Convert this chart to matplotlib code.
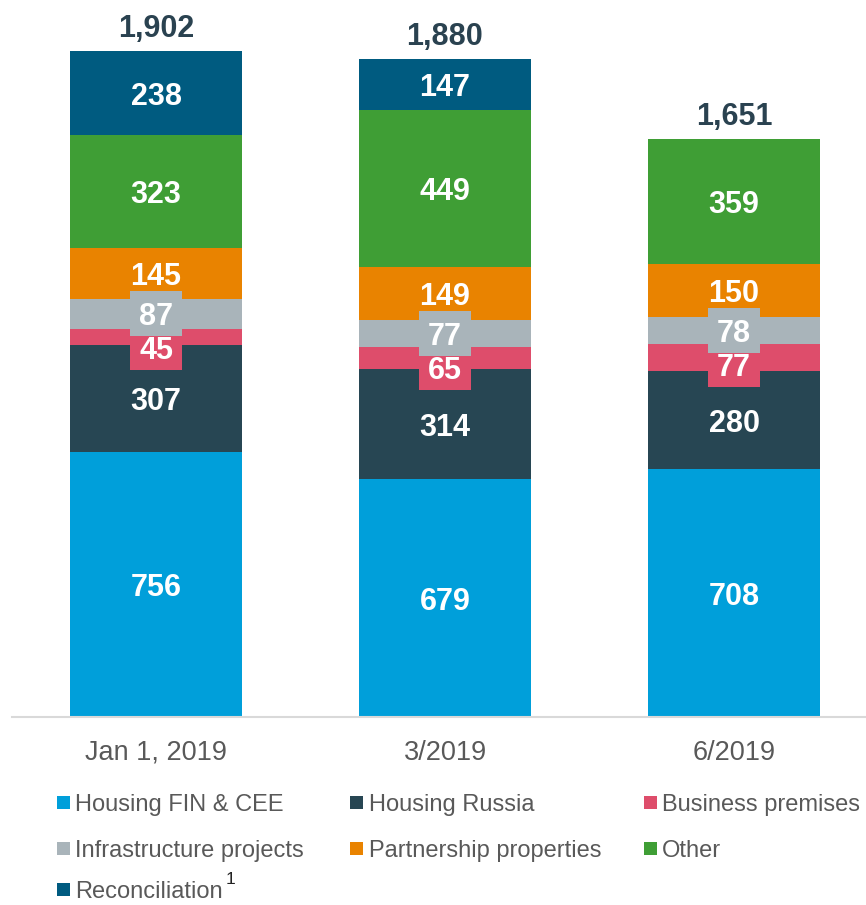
import matplotlib
matplotlib.use("Agg")
import matplotlib.pyplot as plt
from matplotlib.patches import Rectangle

plt.rcParams['font.family'] = ['Liberation Sans', 'DejaVu Sans']

categories = ["Jan 1, 2019", "3/2019", "6/2019"]
series_names = ["Housing FIN & CEE", "Housing Russia", "Business premises",
                "Infrastructure projects", "Partnership properties", "Other",
                "Reconciliation"]
footnote_mark = {"Reconciliation": "1"}
housing_fin_cee = [756, 679, 708]
housing_russia = [307, 314, 280]
business_premises = [45, 65, 77]
infrastructure = [87, 77, 78]
partnership = [145, 149, 150]
other = [323, 449, 359]
reconciliation = [238, 147, 0]
totals = [1902, 1880, 1651]

series_values = [housing_fin_cee, housing_russia, business_premises,
                 infrastructure, partnership, other, reconciliation]
colors = ['#009FDA', '#274653', '#DE4D6B', '#A9B4BA', '#E98300', '#3F9E35', '#005B80']
boxed = [False, False, True, True, False, False, False]

W, H = 866, 905
fig = plt.figure(figsize=(W / 100, H / 100), dpi=100)
px_per_unit = 666 / 1902.0
ax = fig.add_axes([11.5 / W, (H - 717) / H, (W - 11.5) / W, 717 / H])
x = list(range(len(categories)))
bar_w = 0.592
ax.set_xlim(-0.5, (W - 156) / 289.0)
ax.set_ylim(0, 717 / px_per_unit)

bottoms = [0.0] * len(categories)
label_info = []
for si, vals in enumerate(series_values):
    ax.bar(x, vals, width=bar_w, bottom=bottoms, color=colors[si], zorder=2,
           linewidth=0)
    for i, v in enumerate(vals):
        if v > 0:
            label_info.append((si, i, bottoms[i] + v / 2.0, v))
    bottoms = [b + v for b, v in zip(bottoms, vals)]

# resolve overlap between the two small boxed labels (business below infra)
min_sep = 34 / px_per_unit
pos = {(si, i): y for si, i, y, v in label_info}
for i in x:
    if (2, i) in pos and (3, i) in pos:
        gap = pos[(3, i)] - pos[(2, i)]
        if gap < min_sep:
            pos[(2, i)] = pos[(3, i)] - min_sep

box_w = 52 / 289.0
box_h = 45 / px_per_unit
for si, i, y, v in label_info:
    yc = pos[(si, i)]
    z = 5 + si * 2
    if boxed[si]:
        ax.add_patch(Rectangle((i - box_w / 2, yc - box_h / 2), box_w, box_h,
                               facecolor=colors[si], edgecolor='none', zorder=z))
    ax.text(i, yc, f"{v:,}", ha='center', va='center_baseline', color='white',
            fontsize=22, fontweight='bold', zorder=z + 1)

for i, t in enumerate(totals):
    ax.annotate(f"{t:,}", xy=(i, t), xytext=(0, 10), textcoords='offset points',
                ha='center', va='baseline', fontsize=22, fontweight='bold',
                color='#2A4250', annotation_clip=False)

ax.set_xticks(x)
ax.set_xticklabels(categories, fontsize=19.5, color='#595959')
ax.tick_params(axis='x', length=0, pad=16.5)
ax.set_yticks([])
for s in ['left', 'right', 'top']:
    ax.spines[s].set_visible(False)
ax.spines['bottom'].set_color('#D9D9D9')
ax.spines['bottom'].set_linewidth(1.5)
ax.patch.set_alpha(0)

# legend (row-wise, 3 columns)
col_marker_x = [57, 350, 644]
col_text_x = [75, 369, 662]
row_y = [802, 848, 889]
msz = 13
renderer = fig.canvas.get_renderer()
for k, name in enumerate(series_names):
    r, c = divmod(k, 3)
    yc = row_y[r]
    fig.add_artist(Rectangle((col_marker_x[c] / W, (H - yc - msz / 2) / H), msz / W, msz / H,
                             transform=fig.transFigure, facecolor=colors[k],
                             edgecolor='none'))
    t = fig.text(col_text_x[c] / W, (H - yc) / H, name, fontsize=17, color='#595959',
                 ha='left', va='center_baseline')
    if name in footnote_mark:
        bb = t.get_window_extent(renderer=renderer)
        fig.text((bb.x1 + 3) / W, (H - yc + 17) / H, footnote_mark[name], fontsize=12.5,
                 color='#222222', ha='left', va='top')

fig.savefig("out.png", dpi=100)
